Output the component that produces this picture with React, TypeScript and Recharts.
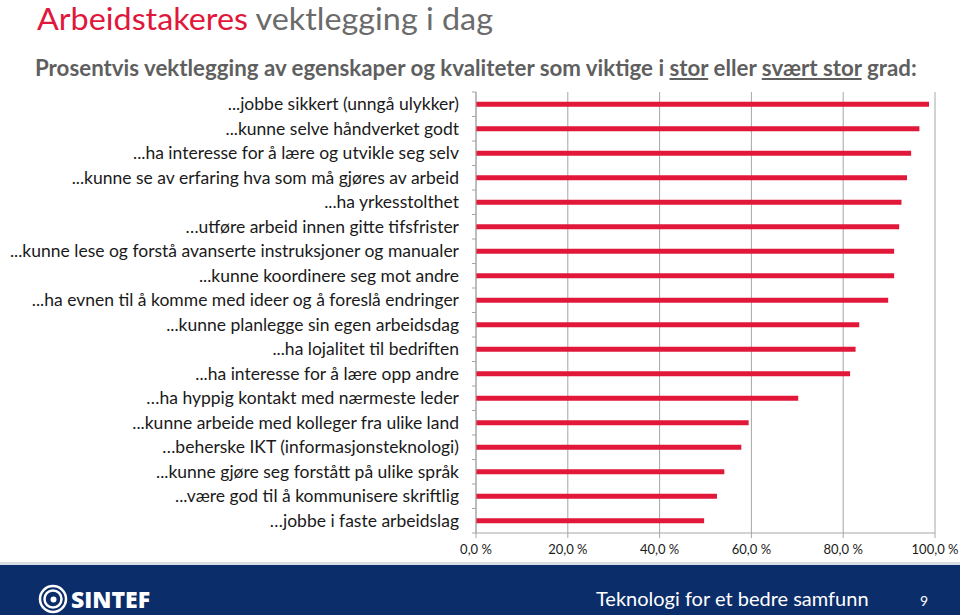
import React from "react";
import { BarChart, Bar, XAxis, YAxis, CartesianGrid } from "recharts";

const categories = [
  "...jobbe sikkert (unngå ulykker)",
  "...kunne selve håndverket godt",
  "...ha interesse for å lære og utvikle seg selv",
  "...kunne se av erfaring hva som må gjøres av arbeid",
  "...ha yrkesstolthet",
  "…utføre arbeid innen gitte tifsfrister",
  "...kunne lese og forstå avanserte instruksjoner og manualer",
  "...kunne koordinere seg mot andre",
  "...ha evnen til å komme med ideer og å foreslå endringer",
  "...kunne planlegge sin egen arbeidsdag",
  "...ha lojalitet til bedriften",
  "...ha interesse for å lære opp andre",
  "…ha hyppig kontakt med nærmeste leder",
  "...kunne arbeide med kolleger fra ulike land",
  "…beherske IKT (informasjonsteknologi)",
  "...kunne gjøre seg forstått på ulike språk",
  "...være god til å kommunisere skriftlig",
  "…jobbe i faste arbeidslag",
];

const values = [
  98.7, 96.6, 94.8, 93.9, 92.7, 92.2, 91.1, 91.1, 89.8, 83.5, 82.7, 81.5, 70.2,
  59.4, 57.8, 54.1, 52.5, 49.7,
];

const xTicks = [0, 20, 40, 60, 80, 100];

const data = categories.map((name, i) => ({ name, value: values[i] }));

const W = 960;
const H = 615;
const MARGIN = { top: 92, right: 25, bottom: 52, left: 0 };
const X_AXIS_H = 30;
const PLOT_H = H - MARGIN.top - MARGIN.bottom - X_AXIS_H;
const BAND = PLOT_H / categories.length;
const TICK_MARGIN = 17;
const GRID = "#a6a6a6";
const FONT = "Lato, 'Open Sans', sans-serif";

const YTick = (props: any) => {
  const { x, y, payload, index } = props;
  const ax = x + TICK_MARGIN;
  return (
    <g>
      <text
        x={x}
        y={y}
        dy="0.35em"
        textAnchor="end"
        fill="#1a1a1a"
        fontSize={17.5}
        fontFamily={FONT}
      >
        {payload.value}
      </text>
      <line x1={ax - 4} x2={ax} y1={y - BAND / 2} y2={y - BAND / 2} stroke={GRID} />
      {index === categories.length - 1 && (
        <line x1={ax - 4} x2={ax} y1={y + BAND / 2} y2={y + BAND / 2} stroke={GRID} />
      )}
    </g>
  );
};

const fmt = (v: number) => v.toFixed(1).replace(".", ",") + " %";

export default function App() {
  return (
    <div
      style={{
        position: "absolute",
        left: 0,
        top: 0,
        width: W,
        height: H,
        background: "#fff",
        overflow: "hidden",
        fontFamily: FONT,
      }}
    >
      <svg
        width={W}
        height={44}
        style={{ position: "absolute", left: 0, top: 0 }}
      >
        <text
          x={37}
          y={30}
          fontSize={30}
          fontFamily={FONT}
          textLength={456}
          lengthAdjust="spacingAndGlyphs"
        >
          <tspan fill="#e0173a">Arbeidstakeres</tspan>
          <tspan fill="#6b6b6b"> vektlegging i dag</tspan>
        </text>
      </svg>
      <div
        style={{
          position: "absolute",
          left: 35,
          top: 54,
          fontSize: 22.3,
          lineHeight: "28px",
          fontWeight: 700,
          color: "#5f5f5f",
          whiteSpace: "nowrap",
          fontFamily: FONT,
        }}
      >
        Prosentvis vektlegging av egenskaper og kvaliteter som viktige i <u>stor</u> eller{" "}
        <u>svært stor</u> grad:
      </div>
      <div style={{ position: "absolute", left: 0, top: 0 }}>
        <BarChart
          width={W}
          height={H}
          data={data}
          layout="vertical"
          margin={MARGIN}
          barCategoryGap="60%"
        >
          <CartesianGrid horizontal={false} stroke={GRID} />
          <XAxis
            type="number"
            domain={[0, 100]}
            ticks={xTicks}
            tickFormatter={fmt}
            stroke={GRID}
            tickSize={5}
            tickMargin={7}
            height={X_AXIS_H}
            tick={{ fill: "#1a1a1a", fontSize: 13, fontFamily: FONT }}
          />
          <YAxis
            type="category"
            dataKey="name"
            width={476}
            stroke={GRID}
            tickLine={false}
            tickSize={0}
            tickMargin={TICK_MARGIN}
            interval={0}
            tick={<YTick />}
          />
          <Bar dataKey="value" fill="#e2183a" isAnimationActive={false} />
        </BarChart>
      </div>
      <div
        style={{
          position: "absolute",
          left: 0,
          top: 562,
          width: W,
          height: 3,
          background: "#d9dde6",
        }}
      />
      <div
        style={{
          position: "absolute",
          left: 0,
          top: 565,
          width: W,
          height: 50,
          background: "#0b2d6a",
          color: "#fff",
        }}
      >
        <svg
          width={30}
          height={30}
          viewBox="0 0 30 30"
          style={{ position: "absolute", left: 38, top: 19 }}
        >
          <circle cx={15} cy={15} r={13} fill="none" stroke="#fff" strokeWidth={2.5} />
          <circle cx={15} cy={15} r={8.5} fill="none" stroke="#fff" strokeWidth={2.5} />
          <circle cx={15.5} cy={15.5} r={3} fill="#fff" />
        </svg>
        <div
          style={{
            position: "absolute",
            left: 71,
            top: 18,
            fontSize: 23,
            fontWeight: 800,
            lineHeight: "32px",
            whiteSpace: "nowrap",
            fontFamily: "'Open Sans', sans-serif",
          }}
        >
          SINTEF
        </div>
        <div
          style={{
            position: "absolute",
            left: 596,
            top: 20,
            fontSize: 20,
            lineHeight: "26px",
            whiteSpace: "nowrap",
            fontFamily: FONT,
          }}
        >
          Teknologi for et bedre samfunn
        </div>
        <div
          style={{
            position: "absolute",
            left: 920,
            top: 27,
            fontSize: 14,
            lineHeight: "18px",
            fontFamily: FONT,
          }}
        >
          9
        </div>
      </div>
    </div>
  );
}
